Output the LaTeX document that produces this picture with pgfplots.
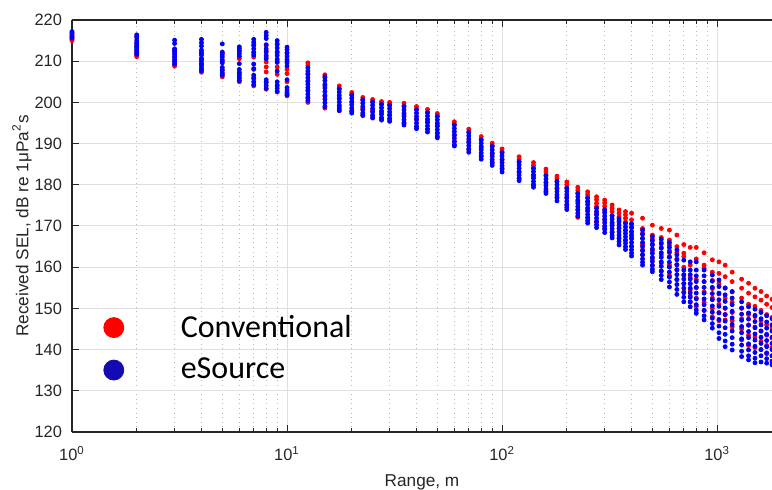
\documentclass[border=0pt]{standalone}
\usepackage{fontspec}
\setmainfont{Liberation Sans}
\newfontfamily\legfont{Carlito}
\usepackage{pgfplots}
\usepackage{pgfplotstable}
\pgfplotsset{compat=1.18}

\definecolor{serred}{RGB}{255,0,0}
\definecolor{serblue}{RGB}{0,0,255}
\definecolor{legred}{RGB}{255,0,0}
\definecolor{legblue}{RGB}{20,10,180}
\definecolor{axcol}{RGB}{38,38,38}

% Conventional source: SEL values per range (nan = no further point)
\pgfplotstableread{
r c1 c2 c3 c4 c5 c6 c7 c8
1 215.0 215.3 215.6 216.0 216.5 217.0 nan nan
2 216.0 214.5 213.5 212.5 211.8 211.4 211.1 nan
3 212.0 211.0 210.0 209.2 208.8 nan nan nan
4 212.0 210.5 209.0 208.0 207.3 nan nan nan
5 212.0 210.0 208.0 206.8 206.2 nan nan nan
6 212.5 210.6 207.0 206.0 205.0 nan nan nan
7 214.0 212.0 211.0 208.0 206.0 204.0 nan nan
8 213.8 212.5 211.0 209.8 208.6 207.4 205.0 203.2
9 214.0 212.0 210.0 208.6 206.8 204.0 202.5 nan
10 212.0 210.0 208.0 207.0 205.0 202.0 201.6 nan
12.5 209.6 209.0 207.0 205.0 203.0 201.0 200.0 nan
15 206.7 206.0 204.0 201.5 198.6 nan nan nan
17.5 204.0 203.3 201.0 199.0 198.0 nan nan nan
20 202.4 201.8 200.0 198.0 nan nan nan nan
22.5 201.2 200.6 198.5 197.0 nan nan nan nan
25 200.7 200.1 198.0 196.5 nan nan nan nan
27.5 200.2 199.6 197.5 196.0 nan nan nan nan
30 200.0 199.4 197.0 195.8 nan nan nan nan
35 199.8 199.2 197.0 195.0 nan nan nan nan
40 199.0 198.4 196.0 194.0 nan nan nan nan
45 198.3 197.6 195.5 193.5 nan nan nan nan
50 197.3 196.7 194.5 192.5 nan nan nan nan
60 195.3 194.7 192.0 190.5 nan nan nan nan
70 193.5 192.8 190.5 188.5 nan nan nan nan
80 191.7 191.0 189.0 187.0 nan nan nan nan
90 190.1 189.5 187.5 185.5 nan nan nan nan
100 188.7 188.0 186.0 184.0 nan nan nan nan
120 186.8 186.2 185.5 183.0 181.5 nan nan nan
140 185.4 184.7 184.0 182.0 180.0 nan nan nan
160 183.8 183.1 182.4 180.5 178.5 nan nan nan
180 182.1 181.5 180.8 179.0 177.0 nan nan nan
200 180.7 180.0 179.2 177.0 175.0 nan nan nan
225 179.4 178.7 178.0 176.0 174.0 172.1 nan nan
250 178.3 177.6 176.9 175.8 174.0 172.0 nan nan
275 177.1 176.4 175.5 174.7 173.0 171.0 nan nan
300 176.3 175.6 174.8 173.6 171.5 169.5 nan nan
325 175.1 174.3 173.5 172.5 170.5 168.5 nan nan
350 173.9 173.1 172.2 171.3 169.5 167.0 nan nan
375 173.5 172.7 171.9 171.0 169.0 166.5 nan nan
400 173.1 171.5 170.5 169.7 168.5 167.3 165.0 nan
450 171.9 169.4 168.2 167.0 165.5 164.2 163.0 nan
500 170.2 167.8 166.8 165.6 164.0 162.0 160.5 nan
550 169.4 167.2 166.0 164.8 163.0 161.0 159.0 nan
600 169.0 166.6 165.4 164.0 162.6 160.5 158.0 nan
650 167.8 165.0 163.5 162.0 160.6 159.3 157.0 nan
700 165.5 163.4 162.6 160.0 158.0 156.0 154.0 nan
750 164.8 160.5 157.5 156.0 154.5 153.0 151.5 nan
800 164.8 162.0 157.0 155.0 152.5 150.5 nan nan
870 163.5 160.5 159.7 156.5 154.0 151.5 149.5 nan
950 161.8 158.8 156.8 154.8 152.5 150.0 148.0 nan
1020 161.3 158.5 156.0 153.5 151.0 149.0 147.0 nan
1090 160.5 157.7 155.0 152.5 150.0 148.5 147.2 nan
1175 158.8 156.5 154.0 151.5 149.0 147.0 145.5 nan
1300 157.1 154.9 152.5 150.0 147.5 145.0 142.3 nan
1400 156.1 153.7 151.0 148.5 146.0 143.5 141.0 nan
1500 154.9 152.8 150.5 148.0 145.5 143.0 140.5 nan
1600 154.1 152.0 149.5 147.0 144.5 142.0 140.0 nan
1700 153.0 151.0 148.5 146.0 143.5 141.0 139.0 nan
1800 152.2 150.2 147.8 145.3 142.8 140.5 138.5 nan
}\redtab

% eSource
\pgfplotstableread{
r b1 b2 b3 b4 b5 b6 b7 b8 b9 b10 b11 b12
1 217.2 216.8 216.4 216.0 215.6 nan nan nan nan nan nan nan
2 216.4 215.8 215.1 214.5 214.1 213.7 213.3 212.9 212.5 212.1 211.7 nan
3 215.1 214.3 213.0 212.7 212.3 211.6 211.0 210.4 209.8 209.3 nan nan
4 215.3 214.5 213.7 212.7 212.1 211.5 210.7 210.1 209.5 209.0 208.3 207.7
5 214.2 212.2 211.6 211.0 210.3 209.6 208.5 207.8 207.2 206.6 nan nan
6 213.5 213.0 212.4 211.8 211.2 209.4 208.0 207.3 206.6 205.9 205.3 nan
7 215.3 214.6 213.8 213.0 212.2 211.5 209.3 208.2 206.6 205.8 205.0 204.3
8 217.0 216.2 215.5 214.0 213.0 212.2 211.4 210.6 205.5 204.8 204.1 203.4
9 215.0 214.2 213.2 212.3 211.4 210.5 209.7 207.6 205.0 204.2 203.4 202.7
10 213.4 212.8 212.0 211.2 210.4 209.6 208.8 205.5 203.6 203.0 202.4 201.8
12.5 208.4 207.6 206.8 206.0 205.2 204.4 203.6 202.8 202.0 201.2 200.4 nan
15 206.2 205.3 204.4 203.5 202.6 201.7 200.8 199.9 199.0 nan nan nan
17.5 203.3 202.5 201.7 200.9 200.1 199.3 198.5 198.0 nan nan nan nan
20 201.8 201.0 200.2 199.4 198.6 197.8 197.4 nan nan nan nan nan
22.5 200.6 199.8 199.0 198.2 197.4 196.8 nan nan nan nan nan nan
25 200.1 199.3 198.5 197.7 196.9 196.2 nan nan nan nan nan nan
27.5 199.5 198.7 197.9 197.1 196.3 195.7 nan nan nan nan nan nan
30 199.3 198.5 197.7 196.9 196.1 195.4 nan nan nan nan nan nan
35 199.0 198.2 197.4 196.6 195.8 195.0 194.5 nan nan nan nan nan
40 198.2 197.4 196.6 195.8 195.0 194.2 193.6 nan nan nan nan nan
45 197.5 196.7 195.9 195.1 194.3 193.5 192.8 nan nan nan nan nan
50 196.6 195.8 195.0 194.2 193.4 192.6 191.8 191.4 nan nan nan nan
60 194.5 193.7 192.9 192.1 191.3 190.5 189.7 189.4 nan nan nan nan
70 192.7 191.9 191.1 190.3 189.5 188.7 187.9 nan nan nan nan nan
80 190.9 190.1 189.3 188.5 187.7 186.9 186.2 nan nan nan nan nan
90 189.3 188.5 187.7 186.9 186.1 185.3 184.7 nan nan nan nan nan
100 187.8 187.0 186.2 185.4 184.6 183.8 183.1 nan nan nan nan nan
120 185.6 184.8 184.0 183.2 182.4 181.6 181.0 nan nan nan nan nan
140 184.0 183.2 182.4 181.6 180.8 180.0 179.4 nan nan nan nan nan
160 182.2 181.4 180.6 179.8 179.0 178.3 177.9 nan nan nan nan nan
180 180.8 180.0 179.2 178.4 177.6 176.8 176.1 nan nan nan nan nan
200 179.2 178.4 177.6 176.8 176.0 175.2 174.5 174.0 nan nan nan nan
225 177.9 177.1 176.3 175.5 174.7 173.9 173.1 172.4 nan nan nan nan
250 176.8 176.0 175.2 174.4 173.6 172.8 172.0 171.3 170.7 nan nan nan
275 174.3 173.5 172.7 171.9 171.1 170.3 169.6 nan nan nan nan nan
300 174.0 173.2 172.4 171.6 170.8 170.0 169.2 168.4 nan nan nan nan
325 172.5 171.7 170.9 170.1 169.3 168.5 167.7 167.1 nan nan nan nan
350 171.8 171.0 170.2 169.4 168.6 167.8 167.0 166.2 165.4 nan nan nan
375 170.6 169.8 169.0 168.2 167.4 166.6 165.8 165.0 164.3 nan nan nan
400 170.5 169.6 168.7 167.8 166.9 166.0 165.1 164.2 163.4 162.7 nan nan
450 169.0 168.0 167.0 166.0 165.0 164.0 163.0 162.0 161.2 160.5 nan nan
500 167.4 166.4 165.4 164.4 163.4 162.4 161.4 160.4 159.5 158.9 nan nan
550 166.8 165.7 164.6 163.5 162.4 161.3 160.2 159.1 158.0 157.0 nan nan
600 166.0 164.8 163.6 162.4 161.2 160.0 158.8 157.6 156.4 155.2 nan nan
650 164.2 163.0 161.8 160.6 159.4 158.2 157.0 155.8 154.6 153.4 nan nan
700 161.7 159.3 158.2 157.1 156.0 154.9 153.8 152.7 151.6 nan nan nan
750 161.3 159.3 158.2 157.1 156.0 154.9 153.8 152.7 151.6 150.4 nan nan
800 161.3 159.3 157.9 156.5 155.1 153.7 152.3 150.9 149.6 148.8 nan nan
870 159.3 157.9 156.5 155.1 153.7 152.3 150.9 149.5 148.2 147.2 nan nan
950 158.1 156.6 155.1 153.6 152.1 150.6 149.1 147.6 146.3 145.2 nan nan
1020 156.9 155.3 153.7 152.1 150.5 148.9 147.3 145.7 144.1 142.7 nan nan
1090 154.9 153.3 151.7 150.1 148.5 146.9 145.3 143.7 142.1 140.7 nan nan
1175 154.1 152.5 150.9 149.3 147.7 146.1 144.5 142.9 141.3 139.9 nan nan
1300 151.6 150.1 148.6 147.1 145.6 144.1 142.6 141.1 139.6 138.3 nan nan
1400 150.4 148.9 147.4 145.9 144.4 142.9 141.4 139.9 138.5 137.5 nan nan
1500 149.8 148.3 146.8 145.3 143.8 142.3 140.8 139.3 137.9 136.8 nan nan
1600 149.0 147.5 146.0 144.5 143.0 141.5 140.0 138.5 137.0 nan nan nan
1700 148.2 146.7 145.2 143.7 142.2 140.7 139.2 137.8 136.7 nan nan nan
1800 147.5 146.0 144.5 143.0 141.5 140.0 138.5 137.2 136.3 nan nan nan
}\bluetab

\begin{document}
\begin{tikzpicture}
\begin{axis}[
    name=ax,
    xmode=log,
    scale only axis,
    width=350pt, height=206pt,
    xmin=1, xmax=1800,
    ymin=120, ymax=220,
    axis x line=box, axis y line=left,
    axis line style={-, color=axcol, line width=0.6pt},
    xtick={1,10,100,1000},
    xticklabels={10\textsuperscript{0},10\textsuperscript{1},10\textsuperscript{2},10\textsuperscript{3}},
    minor xtick={2,3,...,9,20,30,...,90,200,300,...,900},
    ytick={120,130,...,220},
    tick align=inside,
    major tick length=3.5pt, minor tick length=1.8pt,
    tick style={color=axcol, line width=0.5pt},
    grid=both,
    major grid style={color=gray!25, line width=0.5pt, solid},
    minor grid style={color=gray!55, line width=0.4pt, dash pattern=on 0.5pt off 1.8pt},
    ticklabel style={font=\fontsize{8.2}{9.8}\selectfont, color=axcol},
    /pgf/number format/assume math mode=true,
    yticklabel style={xshift=-1.5pt},
    xticklabel style={anchor=base, yshift=-14.3pt},
    xlabel={Range, m},
    ylabel={Received SEL, dB re 1μPa\textsuperscript{2}s},
    label style={font=\fontsize{8.6}{10}\selectfont, color=axcol},
    xlabel style={at={(axis description cs:0.5,-0.1335)}, anchor=base},
    ylabel style={at={(axis description cs:-0.0714,0.5)}, anchor=center},
    clip=false,
    legend style={draw=none, fill=none, inner sep=0pt, row sep=5pt,
        at={(axis description cs:0.0443,0.2027)}, anchor=west,
        font=\legfont\fontsize{16}{19}\selectfont, text=black},
    legend cell align=left,
]
\pgfplotsinvokeforeach{1,...,8}{
    \addplot[only marks, mark=*, mark size=1pt, color=serred, forget plot]
        table[x=r, y=c#1] {\redtab};
}
\pgfplotsinvokeforeach{1,...,12}{
    \addplot[only marks, mark=*, mark size=1pt, color=serblue, forget plot]
        table[x=r, y=b#1] {\bluetab};
}
\addlegendimage{legend image code/.code={\fill[legred] (0pt,0pt) circle (5pt); \path[draw=none, fill=none] (0pt,0pt) rectangle (31.5pt,0.1pt);}}
\addlegendentry{Conventional}
\addlegendimage{legend image code/.code={\fill[legblue] (0pt,0pt) circle (5pt); \path[draw=none, fill=none] (0pt,0pt) rectangle (31.5pt,0.1pt);}}
\addlegendentry{eSource}
\end{axis}
\pgfresetboundingbox
\useasboundingbox ([xshift=-36pt,yshift=-29pt]ax.south west) rectangle ([yshift=10pt]ax.north east);
\end{tikzpicture}
\end{document}
